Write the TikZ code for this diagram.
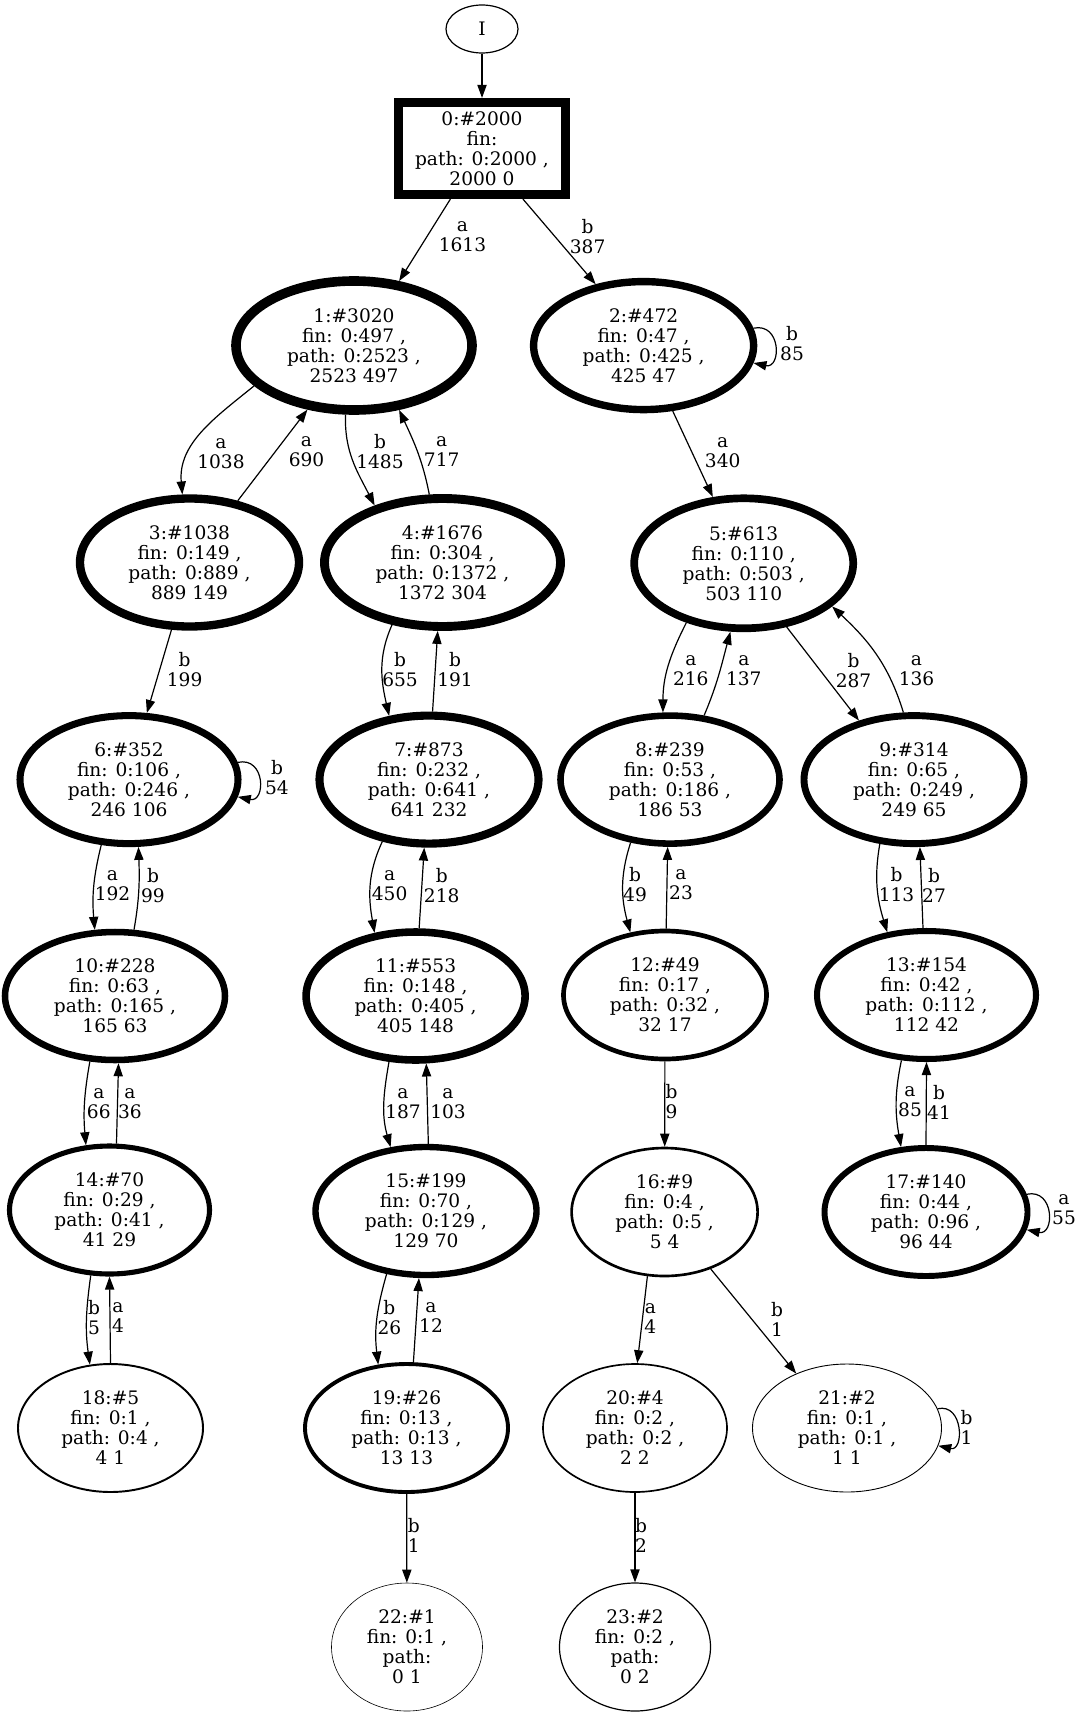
\documentclass[tikz,border=0pt]{standalone}
\usepackage{fontspec}
\setmainfont{DejaVu Serif}
\usetikzlibrary{shapes.geometric,arrows.meta}
\begin{document}
\begin{tikzpicture}[x=0.5pt,y=-0.5pt,
  txt/.style={font=\fontsize{9.3}{10}\selectfont,align=center},
  st/.style={ellipse,draw,txt,inner sep=0pt,minimum height=64pt},
  lab/.style={txt,inner sep=0pt},
  edge/.style={line width=0.6pt,-{Triangle[length=6.5pt,width=4.6pt]}},
]
\useasboundingbox (0,0) rectangle (1085,1712);
% nodes
\node[ellipse,draw,txt,inner sep=0pt,line width=0.6pt,minimum width=36pt,minimum height=24pt] (nI) at (482,29) {I};
\node[rectangle,draw,txt,inner sep=0pt,line width=4.56pt,minimum width=83.5pt,minimum height=46pt] (n0) at (482,148.5) {0:\#2000\\fin:\\path: 0:2000 ,\\2000 0};
\node[st,line width=4.81pt,minimum width=118pt,minimum height=64.5pt] (n1) at (354,345.5) {1:\#3020\\fin: 0:497 ,\\path: 0:2523 ,\\2523 497};
\node[st,line width=3.70pt,minimum width=110pt] (n2) at (643.6,345.6) {2:\#472\\fin: 0:47 ,\\path: 0:425 ,\\425 47};
\node[st,line width=4.17pt,minimum width=109.5pt] (n3) at (189.5,562.5) {3:\#1038\\fin: 0:149 ,\\path: 0:889 ,\\889 149};
\node[st,line width=4.45pt,minimum width=118pt] (n4) at (442.5,562.5) {4:\#1676\\fin: 0:304 ,\\path: 0:1372 ,\\1372 304};
\node[st,line width=3.85pt,minimum width=109.5pt,minimum height=65pt] (n5) at (743.7,563.3) {5:\#613\\fin: 0:110 ,\\path: 0:503 ,\\503 110};
\node[st,line width=3.52pt,minimum width=109pt] (n6) at (129,779.6) {6:\#352\\fin: 0:106 ,\\path: 0:246 ,\\246 106};
\node[st,line width=4.06pt,minimum width=109.5pt] (n7) at (429,779.6) {7:\#873\\fin: 0:232 ,\\path: 0:641 ,\\641 232};
\node[st,line width=3.29pt,minimum width=109.5pt] (n8) at (670,779.6) {8:\#239\\fin: 0:53 ,\\path: 0:186 ,\\186 53};
\node[st,line width=3.45pt,minimum width=110pt] (n9) at (914,779.6) {9:\#314\\fin: 0:65 ,\\path: 0:249 ,\\249 65};
\node[st,line width=3.26pt,minimum width=110pt] (n10) at (115,996) {10:\#228\\fin: 0:63 ,\\path: 0:165 ,\\165 63};
\node[st,line width=3.79pt,minimum width=109.5pt] (n11) at (415.6,996) {11:\#553\\fin: 0:148 ,\\path: 0:405 ,\\405 148};
\node[st,line width=2.34pt,minimum width=101.5pt] (n12) at (665,995) {12:\#49\\fin: 0:17 ,\\path: 0:32 ,\\32 17};
\node[st,line width=3.02pt,minimum width=109.5pt] (n13) at (926.5,995) {13:\#154\\fin: 0:42 ,\\path: 0:112 ,\\112 42};
\node[st,line width=2.55pt,minimum width=100pt] (n14) at (109.5,1210) {14:\#70\\fin: 0:29 ,\\path: 0:41 ,\\41 29};
\node[st,line width=3.18pt,minimum width=110.5pt] (n15) at (426,1211) {15:\#199\\fin: 0:70 ,\\path: 0:129 ,\\129 70};
\node[st,line width=1.32pt,minimum width=93pt] (n16) at (664.6,1212) {16:\#9\\fin: 0:4 ,\\path: 0:5 ,\\5 4};
\node[st,line width=2.97pt,minimum width=101.5pt] (n17) at (926,1212) {17:\#140\\fin: 0:44 ,\\path: 0:96 ,\\96 44};
\node[st,line width=0.97pt,minimum width=92.5pt] (n18) at (110.5,1428) {18:\#5\\fin: 0:1 ,\\path: 0:4 ,\\4 1};
\node[st,line width=1.95pt,minimum width=101.5pt] (n19) at (406.5,1428) {19:\#26\\fin: 0:13 ,\\path: 0:13 ,\\13 13};
\node[st,line width=0.83pt,minimum width=92pt] (n20) at (635,1428) {20:\#4\\fin: 0:2 ,\\path: 0:2 ,\\2 2};
\node[st,line width=0.45pt,minimum width=94.5pt] (n21) at (847,1428) {21:\#2\\fin: 0:1 ,\\path: 0:1 ,\\1 1};
\node[st,line width=0.3pt,minimum width=75.5pt] (n22) at (407,1647) {22:\#1\\fin: 0:1 ,\\path:\\0 1};
\node[st,line width=0.6pt,minimum width=75.5pt] (n23) at (635,1647) {23:\#2\\fin: 0:2 ,\\path:\\0 2};
% edges
\draw[edge] (nI) -- (n0);
\draw[edge] (n0.238) -- (n1.55);
\draw[edge] (n0.309) -- (n2.128);
\draw[edge] (n2.9) .. controls +(28,-6) and +(28,6) .. (n2.-9);
\draw[edge] (n1.202) to[out=219,in=95] (n3.96);
\draw[edge] (n3.52) -- (n1.234);
\draw[edge] (n1.263) to[out=268,in=117] (n4.140);
\draw[edge] (n4.101) to[out=101,in=295] (n1.305);
\draw[edge] (n2.294) -- (n5.115);
\draw[edge] (n3.255) -- (n6.75);
\draw[edge] (n4.231) to[out=246,in=103] (n7.122);
\draw[edge] (n7.87) -- (n4.266);
\draw[edge] (n5.226) to[out=243,in=90] (n8.96);
\draw[edge] (n8.62) to[out=67,in=255] (n5.259);
\draw[edge] (n5.304) -- (n9.133);
\draw[edge] (n9.99) to[out=107,in=317] (n5.334);
\draw[edge] (n6.9) .. controls +(28,-6) and +(28,6) .. (n6.-9);
\draw[edge] (n6.247) to[out=256,in=95] (n10.107);
\draw[edge] (n10.74) to[out=80,in=272] (n6.278);
\draw[edge] (n7.233) to[out=245,in=100] (n11.123);
\draw[edge] (n11.87) -- (n7.266);
\draw[edge] (n8.238) to[out=252,in=105] (n12.119);
\draw[edge] (n12.89) -- (n8.268);
\draw[edge] (n9.242) to[out=260,in=107] (n13.122);
\draw[edge] (n13.93) -- (n9.275);
\draw[edge] (n10.249) to[out=260,in=95] (n14.110);
\draw[edge] (n14.84) -- (n10.273);
\draw[edge] (n11.248) to[out=260,in=106] (n15.119);
\draw[edge] (n15.88) -- (n11.279);
\draw[edge] (n12) -- (n16);
\draw[edge] (n13.249) to[out=258,in=100] (n17.111);
\draw[edge] (n17.90) -- (n13.270);
\draw[edge] (n17.10) .. controls +(28,-6) and +(28,6) .. (n17.-10);
\draw[edge] (n16.255) -- (n20.88);
\draw[edge] (n16.309) -- (n21.133);
\draw[edge] (n14.254) to[out=262,in=98] (n18.108);
\draw[edge] (n18.90) -- (n14.270);
\draw[edge] (n15.238) to[out=254,in=97] (n19.114);
\draw[edge] (n19.84) -- (n15.264);
\draw[edge] (n19) -- (n22);
\draw[edge] (n20) -- (n23);
\draw[edge] (n21.12) .. controls +(26,-6) and +(26,6) .. (n21.-11);
% edge labels
\node[lab] (l01) at (462.5,237) {a\\1613};
\node[lab] (l02) at (587.6,237) {b\\387};
\node[lab] (l22) at (792,344) {b\\85};
\node[lab] (l13) at (221,454) {a\\1038};
\node[lab] (l31) at (306.5,452) {a\\690};
\node[lab] (l14) at (380,452) {b\\1485};
\node[lab] (l41) at (441.7,452) {a\\717};
\node[lab] (l25) at (722.7,453) {a\\340};
\node[lab] (l36) at (184.6,669.6) {b\\199};
\node[lab] (l47) at (400,669.6) {b\\655};
\node[lab] (l74) at (455,669.6) {b\\191};
\node[lab] (l58) at (690.8,671) {a\\216};
\node[lab] (l85) at (743.8,671) {a\\137};
\node[lab] (l59) at (853.5,671) {b\\287};
\node[lab] (l95) at (916.5,671) {a\\136};
\node[lab] (l66) at (277,778) {b\\54};
\node[lab] (l610) at (112.5,886) {a\\192};
\node[lab] (l106) at (153,886) {b\\99};
\node[lab] (l711) at (389.6,886) {a\\450};
\node[lab] (l117) at (441.7,886) {b\\218};
\node[lab] (l812) at (635,885) {b\\49};
\node[lab] (l128) at (681,885) {a\\23};
\node[lab] (l913) at (896.5,885) {b\\113};
\node[lab] (l139) at (934,885) {b\\27};
\node[lab] (l1014) at (98.8,1104) {a\\66};
\node[lab] (l1410) at (130,1104) {a\\36};
\node[lab] (l1115) at (403,1104) {a\\187};
\node[lab] (l1511) at (448,1104) {a\\103};
\node[lab] (l1216) at (671.5,1102) {b\\9};
\node[lab] (l1317) at (910,1102) {a\\85};
\node[lab] (l1713) at (939,1102) {b\\41};
\node[lab] (l1717) at (1064,1209.6) {a\\55};
\node[lab] (l1620) at (650.4,1319) {a\\4};
\node[lab] (l1621) at (777,1319) {b\\1};
\node[lab] (l1418) at (94,1318) {b\\5};
\node[lab] (l1814) at (118,1318) {a\\4};
\node[lab] (l1519) at (389.4,1318) {b\\26};
\node[lab] (l1915) at (431,1318) {a\\12};
\node[lab] (l1922) at (413.8,1535.5) {b\\1};
\node[lab] (l2023) at (641,1535.5) {b\\2};
\node[lab] (l2121) at (966.6,1427.6) {b\\1};
\end{tikzpicture}
\end{document}
